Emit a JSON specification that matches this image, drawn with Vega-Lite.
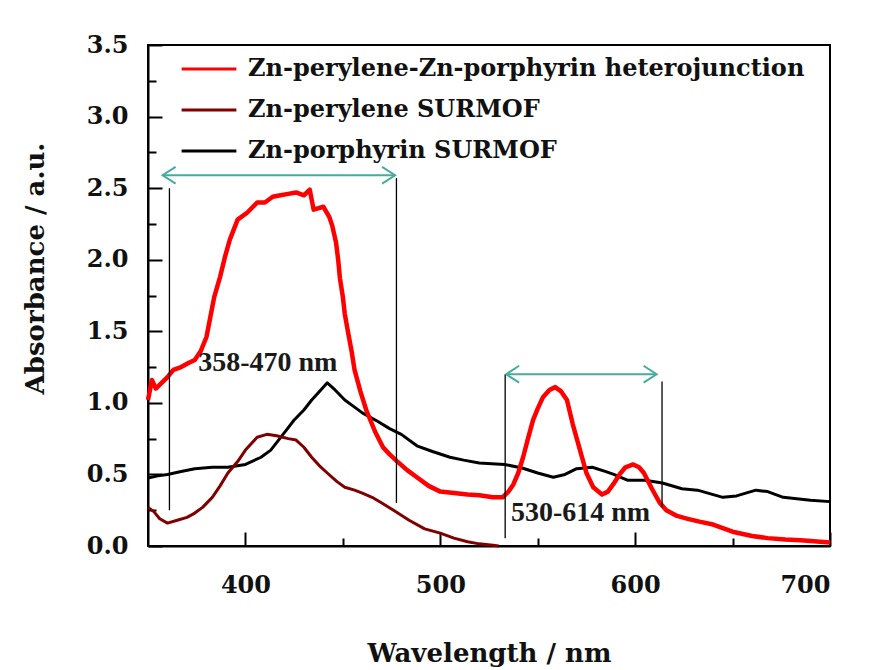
{
  "$schema": "https://vega.github.io/schema/vega-lite/v6.json",
  "width": 682,
  "height": 501,
  "autosize": {"type": "none"},
  "padding": {"left": 148, "top": 45, "right": 45, "bottom": 124},
  "background": "white",
  "config": {
    "view": {"stroke": "black", "strokeWidth": 2},
    "font": "DejaVu Serif",
    "axis": {
      "grid": false,
      "zindex": 1,
      "domainColor": "black",
      "domainWidth": 2,
      "tickColor": "black",
      "tickWidth": 2,
      "labelFont": "DejaVu Serif",
      "labelFontWeight": "bold",
      "labelFontSize": 24,
      "labelColor": "#111111",
      "titleFont": "DejaVu Serif",
      "titleFontWeight": "bold",
      "titleFontSize": 26,
      "titleColor": "#111111"
    },
    "legend": {
      "orient": "none",
      "legendX": 32,
      "legendY": -5,
      "title": null,
      "labelFont": "DejaVu Serif",
      "labelFontWeight": "bold",
      "labelFontSize": 24,
      "labelColor": "#111111",
      "labelLimit": 800,
      "symbolType": "stroke",
      "symbolSize": 3000,
      "symbolStrokeWidth": 2.8,
      "rowPadding": 0,
      "labelOffset": 10
    }
  },
  "resolve": {"axis": {"x": "independent", "y": "independent"}},
  "datasets": {
    "spectra": [
      {"series": "Zn-porphyrin SURMOF", "wl": 350, "abs": 0.475},
      {"series": "Zn-porphyrin SURMOF", "wl": 355, "abs": 0.49},
      {"series": "Zn-porphyrin SURMOF", "wl": 360, "abs": 0.5},
      {"series": "Zn-porphyrin SURMOF", "wl": 367, "abs": 0.52},
      {"series": "Zn-porphyrin SURMOF", "wl": 374, "abs": 0.54},
      {"series": "Zn-porphyrin SURMOF", "wl": 383, "abs": 0.55},
      {"series": "Zn-porphyrin SURMOF", "wl": 391, "abs": 0.55},
      {"series": "Zn-porphyrin SURMOF", "wl": 400, "abs": 0.57},
      {"series": "Zn-porphyrin SURMOF", "wl": 408, "abs": 0.62},
      {"series": "Zn-porphyrin SURMOF", "wl": 413, "abs": 0.67},
      {"series": "Zn-porphyrin SURMOF", "wl": 417, "abs": 0.74},
      {"series": "Zn-porphyrin SURMOF", "wl": 421, "abs": 0.81},
      {"series": "Zn-porphyrin SURMOF", "wl": 425, "abs": 0.88},
      {"series": "Zn-porphyrin SURMOF", "wl": 430, "abs": 0.95},
      {"series": "Zn-porphyrin SURMOF", "wl": 434, "abs": 1.02},
      {"series": "Zn-porphyrin SURMOF", "wl": 438, "abs": 1.08},
      {"series": "Zn-porphyrin SURMOF", "wl": 442, "abs": 1.14},
      {"series": "Zn-porphyrin SURMOF", "wl": 446, "abs": 1.09},
      {"series": "Zn-porphyrin SURMOF", "wl": 451, "abs": 1.02},
      {"series": "Zn-porphyrin SURMOF", "wl": 456, "abs": 0.97},
      {"series": "Zn-porphyrin SURMOF", "wl": 460, "abs": 0.93},
      {"series": "Zn-porphyrin SURMOF", "wl": 468, "abs": 0.87},
      {"series": "Zn-porphyrin SURMOF", "wl": 474, "abs": 0.82},
      {"series": "Zn-porphyrin SURMOF", "wl": 480, "abs": 0.78},
      {"series": "Zn-porphyrin SURMOF", "wl": 488, "abs": 0.7},
      {"series": "Zn-porphyrin SURMOF", "wl": 496, "abs": 0.66},
      {"series": "Zn-porphyrin SURMOF", "wl": 505, "abs": 0.62},
      {"series": "Zn-porphyrin SURMOF", "wl": 512, "abs": 0.6},
      {"series": "Zn-porphyrin SURMOF", "wl": 520, "abs": 0.58},
      {"series": "Zn-porphyrin SURMOF", "wl": 533, "abs": 0.57},
      {"series": "Zn-porphyrin SURMOF", "wl": 542, "abs": 0.545},
      {"series": "Zn-porphyrin SURMOF", "wl": 550, "abs": 0.51},
      {"series": "Zn-porphyrin SURMOF", "wl": 558, "abs": 0.48},
      {"series": "Zn-porphyrin SURMOF", "wl": 564, "abs": 0.5},
      {"series": "Zn-porphyrin SURMOF", "wl": 570, "abs": 0.54},
      {"series": "Zn-porphyrin SURMOF", "wl": 578, "abs": 0.55},
      {"series": "Zn-porphyrin SURMOF", "wl": 585, "abs": 0.52},
      {"series": "Zn-porphyrin SURMOF", "wl": 589, "abs": 0.5},
      {"series": "Zn-porphyrin SURMOF", "wl": 596, "abs": 0.46},
      {"series": "Zn-porphyrin SURMOF", "wl": 605, "abs": 0.46},
      {"series": "Zn-porphyrin SURMOF", "wl": 614, "abs": 0.44},
      {"series": "Zn-porphyrin SURMOF", "wl": 624, "abs": 0.4},
      {"series": "Zn-porphyrin SURMOF", "wl": 632, "abs": 0.39},
      {"series": "Zn-porphyrin SURMOF", "wl": 645, "abs": 0.34},
      {"series": "Zn-porphyrin SURMOF", "wl": 652, "abs": 0.35},
      {"series": "Zn-porphyrin SURMOF", "wl": 662, "abs": 0.39},
      {"series": "Zn-porphyrin SURMOF", "wl": 668, "abs": 0.38},
      {"series": "Zn-porphyrin SURMOF", "wl": 676, "abs": 0.34},
      {"series": "Zn-porphyrin SURMOF", "wl": 690, "abs": 0.32},
      {"series": "Zn-porphyrin SURMOF", "wl": 700, "abs": 0.31},

      {"series": "Zn-perylene SURMOF", "wl": 350, "abs": 0.27},
      {"series": "Zn-perylene SURMOF", "wl": 353, "abs": 0.24},
      {"series": "Zn-perylene SURMOF", "wl": 356, "abs": 0.19},
      {"series": "Zn-perylene SURMOF", "wl": 360, "abs": 0.16},
      {"series": "Zn-perylene SURMOF", "wl": 365, "abs": 0.18},
      {"series": "Zn-perylene SURMOF", "wl": 370, "abs": 0.2},
      {"series": "Zn-perylene SURMOF", "wl": 374, "abs": 0.23},
      {"series": "Zn-perylene SURMOF", "wl": 378, "abs": 0.27},
      {"series": "Zn-perylene SURMOF", "wl": 383, "abs": 0.34},
      {"series": "Zn-perylene SURMOF", "wl": 387, "abs": 0.42},
      {"series": "Zn-perylene SURMOF", "wl": 391, "abs": 0.51},
      {"series": "Zn-perylene SURMOF", "wl": 396, "abs": 0.59},
      {"series": "Zn-perylene SURMOF", "wl": 400, "abs": 0.67},
      {"series": "Zn-perylene SURMOF", "wl": 406, "abs": 0.76},
      {"series": "Zn-perylene SURMOF", "wl": 411, "abs": 0.78},
      {"series": "Zn-perylene SURMOF", "wl": 416, "abs": 0.77},
      {"series": "Zn-perylene SURMOF", "wl": 422, "abs": 0.75},
      {"series": "Zn-perylene SURMOF", "wl": 426, "abs": 0.74},
      {"series": "Zn-perylene SURMOF", "wl": 430, "abs": 0.69},
      {"series": "Zn-perylene SURMOF", "wl": 434, "abs": 0.62},
      {"series": "Zn-perylene SURMOF", "wl": 438, "abs": 0.56},
      {"series": "Zn-perylene SURMOF", "wl": 442, "abs": 0.51},
      {"series": "Zn-perylene SURMOF", "wl": 447, "abs": 0.45},
      {"series": "Zn-perylene SURMOF", "wl": 451, "abs": 0.41},
      {"series": "Zn-perylene SURMOF", "wl": 456, "abs": 0.39},
      {"series": "Zn-perylene SURMOF", "wl": 460, "abs": 0.37},
      {"series": "Zn-perylene SURMOF", "wl": 465, "abs": 0.34},
      {"series": "Zn-perylene SURMOF", "wl": 470, "abs": 0.3},
      {"series": "Zn-perylene SURMOF", "wl": 476, "abs": 0.25},
      {"series": "Zn-perylene SURMOF", "wl": 484, "abs": 0.18},
      {"series": "Zn-perylene SURMOF", "wl": 492, "abs": 0.12},
      {"series": "Zn-perylene SURMOF", "wl": 500, "abs": 0.09},
      {"series": "Zn-perylene SURMOF", "wl": 507, "abs": 0.055},
      {"series": "Zn-perylene SURMOF", "wl": 514, "abs": 0.03},
      {"series": "Zn-perylene SURMOF", "wl": 520, "abs": 0.015},
      {"series": "Zn-perylene SURMOF", "wl": 527, "abs": 0.005},
      {"series": "Zn-perylene SURMOF", "wl": 530, "abs": 0.0},

      {"series": "Zn-perylene-Zn-porphyrin heterojunction", "wl": 350, "abs": 1.02},
      {"series": "Zn-perylene-Zn-porphyrin heterojunction", "wl": 352, "abs": 1.16},
      {"series": "Zn-perylene-Zn-porphyrin heterojunction", "wl": 354, "abs": 1.1},
      {"series": "Zn-perylene-Zn-porphyrin heterojunction", "wl": 357, "abs": 1.14},
      {"series": "Zn-perylene-Zn-porphyrin heterojunction", "wl": 360, "abs": 1.18},
      {"series": "Zn-perylene-Zn-porphyrin heterojunction", "wl": 363, "abs": 1.23},
      {"series": "Zn-perylene-Zn-porphyrin heterojunction", "wl": 367, "abs": 1.25},
      {"series": "Zn-perylene-Zn-porphyrin heterojunction", "wl": 371, "abs": 1.28},
      {"series": "Zn-perylene-Zn-porphyrin heterojunction", "wl": 374, "abs": 1.3},
      {"series": "Zn-perylene-Zn-porphyrin heterojunction", "wl": 377, "abs": 1.36},
      {"series": "Zn-perylene-Zn-porphyrin heterojunction", "wl": 380, "abs": 1.46},
      {"series": "Zn-perylene-Zn-porphyrin heterojunction", "wl": 382, "abs": 1.6},
      {"series": "Zn-perylene-Zn-porphyrin heterojunction", "wl": 384, "abs": 1.74},
      {"series": "Zn-perylene-Zn-porphyrin heterojunction", "wl": 387, "abs": 1.88},
      {"series": "Zn-perylene-Zn-porphyrin heterojunction", "wl": 389.5, "abs": 2.02},
      {"series": "Zn-perylene-Zn-porphyrin heterojunction", "wl": 392, "abs": 2.14},
      {"series": "Zn-perylene-Zn-porphyrin heterojunction", "wl": 396, "abs": 2.28},
      {"series": "Zn-perylene-Zn-porphyrin heterojunction", "wl": 401, "abs": 2.33},
      {"series": "Zn-perylene-Zn-porphyrin heterojunction", "wl": 406, "abs": 2.4},
      {"series": "Zn-perylene-Zn-porphyrin heterojunction", "wl": 410, "abs": 2.4},
      {"series": "Zn-perylene-Zn-porphyrin heterojunction", "wl": 414, "abs": 2.44},
      {"series": "Zn-perylene-Zn-porphyrin heterojunction", "wl": 418, "abs": 2.45},
      {"series": "Zn-perylene-Zn-porphyrin heterojunction", "wl": 422, "abs": 2.46},
      {"series": "Zn-perylene-Zn-porphyrin heterojunction", "wl": 426, "abs": 2.47},
      {"series": "Zn-perylene-Zn-porphyrin heterojunction", "wl": 430, "abs": 2.45},
      {"series": "Zn-perylene-Zn-porphyrin heterojunction", "wl": 433, "abs": 2.49},
      {"series": "Zn-perylene-Zn-porphyrin heterojunction", "wl": 435, "abs": 2.35},
      {"series": "Zn-perylene-Zn-porphyrin heterojunction", "wl": 440, "abs": 2.37},
      {"series": "Zn-perylene-Zn-porphyrin heterojunction", "wl": 443, "abs": 2.3},
      {"series": "Zn-perylene-Zn-porphyrin heterojunction", "wl": 444.5, "abs": 2.24},
      {"series": "Zn-perylene-Zn-porphyrin heterojunction", "wl": 446.5, "abs": 2.12},
      {"series": "Zn-perylene-Zn-porphyrin heterojunction", "wl": 447.6, "abs": 2.0},
      {"series": "Zn-perylene-Zn-porphyrin heterojunction", "wl": 448.5, "abs": 1.87},
      {"series": "Zn-perylene-Zn-porphyrin heterojunction", "wl": 450, "abs": 1.74},
      {"series": "Zn-perylene-Zn-porphyrin heterojunction", "wl": 451, "abs": 1.62},
      {"series": "Zn-perylene-Zn-porphyrin heterojunction", "wl": 452.7, "abs": 1.49},
      {"series": "Zn-perylene-Zn-porphyrin heterojunction", "wl": 454.5, "abs": 1.36},
      {"series": "Zn-perylene-Zn-porphyrin heterojunction", "wl": 456, "abs": 1.23},
      {"series": "Zn-perylene-Zn-porphyrin heterojunction", "wl": 459, "abs": 1.08},
      {"series": "Zn-perylene-Zn-porphyrin heterojunction", "wl": 462, "abs": 0.95},
      {"series": "Zn-perylene-Zn-porphyrin heterojunction", "wl": 466.5, "abs": 0.8},
      {"series": "Zn-perylene-Zn-porphyrin heterojunction", "wl": 470.6, "abs": 0.69},
      {"series": "Zn-perylene-Zn-porphyrin heterojunction", "wl": 474, "abs": 0.64},
      {"series": "Zn-perylene-Zn-porphyrin heterojunction", "wl": 478, "abs": 0.59},
      {"series": "Zn-perylene-Zn-porphyrin heterojunction", "wl": 483, "abs": 0.53},
      {"series": "Zn-perylene-Zn-porphyrin heterojunction", "wl": 488, "abs": 0.48},
      {"series": "Zn-perylene-Zn-porphyrin heterojunction", "wl": 494, "abs": 0.42},
      {"series": "Zn-perylene-Zn-porphyrin heterojunction", "wl": 500, "abs": 0.38},
      {"series": "Zn-perylene-Zn-porphyrin heterojunction", "wl": 507, "abs": 0.37},
      {"series": "Zn-perylene-Zn-porphyrin heterojunction", "wl": 514, "abs": 0.36},
      {"series": "Zn-perylene-Zn-porphyrin heterojunction", "wl": 520, "abs": 0.355},
      {"series": "Zn-perylene-Zn-porphyrin heterojunction", "wl": 527, "abs": 0.34},
      {"series": "Zn-perylene-Zn-porphyrin heterojunction", "wl": 532, "abs": 0.34},
      {"series": "Zn-perylene-Zn-porphyrin heterojunction", "wl": 535, "abs": 0.38},
      {"series": "Zn-perylene-Zn-porphyrin heterojunction", "wl": 537.5, "abs": 0.43},
      {"series": "Zn-perylene-Zn-porphyrin heterojunction", "wl": 540, "abs": 0.51},
      {"series": "Zn-perylene-Zn-porphyrin heterojunction", "wl": 542.5, "abs": 0.62},
      {"series": "Zn-perylene-Zn-porphyrin heterojunction", "wl": 545, "abs": 0.75},
      {"series": "Zn-perylene-Zn-porphyrin heterojunction", "wl": 547.6, "abs": 0.88},
      {"series": "Zn-perylene-Zn-porphyrin heterojunction", "wl": 550, "abs": 0.96},
      {"series": "Zn-perylene-Zn-porphyrin heterojunction", "wl": 552.7, "abs": 1.04},
      {"series": "Zn-perylene-Zn-porphyrin heterojunction", "wl": 556, "abs": 1.09},
      {"series": "Zn-perylene-Zn-porphyrin heterojunction", "wl": 559, "abs": 1.11},
      {"series": "Zn-perylene-Zn-porphyrin heterojunction", "wl": 562, "abs": 1.08},
      {"series": "Zn-perylene-Zn-porphyrin heterojunction", "wl": 565, "abs": 1.02},
      {"series": "Zn-perylene-Zn-porphyrin heterojunction", "wl": 568, "abs": 0.85},
      {"series": "Zn-perylene-Zn-porphyrin heterojunction", "wl": 571.7, "abs": 0.67},
      {"series": "Zn-perylene-Zn-porphyrin heterojunction", "wl": 575, "abs": 0.51},
      {"series": "Zn-perylene-Zn-porphyrin heterojunction", "wl": 578.5, "abs": 0.41},
      {"series": "Zn-perylene-Zn-porphyrin heterojunction", "wl": 583, "abs": 0.36},
      {"series": "Zn-perylene-Zn-porphyrin heterojunction", "wl": 586, "abs": 0.38},
      {"series": "Zn-perylene-Zn-porphyrin heterojunction", "wl": 588.7, "abs": 0.43},
      {"series": "Zn-perylene-Zn-porphyrin heterojunction", "wl": 592, "abs": 0.5},
      {"series": "Zn-perylene-Zn-porphyrin heterojunction", "wl": 595, "abs": 0.55},
      {"series": "Zn-perylene-Zn-porphyrin heterojunction", "wl": 599, "abs": 0.57},
      {"series": "Zn-perylene-Zn-porphyrin heterojunction", "wl": 602, "abs": 0.55},
      {"series": "Zn-perylene-Zn-porphyrin heterojunction", "wl": 604.5, "abs": 0.51},
      {"series": "Zn-perylene-Zn-porphyrin heterojunction", "wl": 608.6, "abs": 0.4},
      {"series": "Zn-perylene-Zn-porphyrin heterojunction", "wl": 612.7, "abs": 0.3},
      {"series": "Zn-perylene-Zn-porphyrin heterojunction", "wl": 616, "abs": 0.25},
      {"series": "Zn-perylene-Zn-porphyrin heterojunction", "wl": 621.5, "abs": 0.21},
      {"series": "Zn-perylene-Zn-porphyrin heterojunction", "wl": 627, "abs": 0.19},
      {"series": "Zn-perylene-Zn-porphyrin heterojunction", "wl": 633, "abs": 0.17},
      {"series": "Zn-perylene-Zn-porphyrin heterojunction", "wl": 640, "abs": 0.15},
      {"series": "Zn-perylene-Zn-porphyrin heterojunction", "wl": 650, "abs": 0.1},
      {"series": "Zn-perylene-Zn-porphyrin heterojunction", "wl": 660, "abs": 0.07},
      {"series": "Zn-perylene-Zn-porphyrin heterojunction", "wl": 668, "abs": 0.055},
      {"series": "Zn-perylene-Zn-porphyrin heterojunction", "wl": 677, "abs": 0.045},
      {"series": "Zn-perylene-Zn-porphyrin heterojunction", "wl": 685, "abs": 0.04},
      {"series": "Zn-perylene-Zn-porphyrin heterojunction", "wl": 700, "abs": 0.025}
    ],
    "vlines": [
      {"wl": 361, "lo": 0.25, "hi": 2.5},
      {"wl": 477.5, "lo": 0.3, "hi": 2.57},
      {"wl": 533.3, "lo": 0.055, "hi": 1.2},
      {"wl": 613.8, "lo": 0.27, "hi": 1.15}
    ],
    "arrows": [
      {"from": 357.5, "to": 476.8, "abs": 2.59},
      {"from": 533.8, "to": 611, "abs": 1.2}
    ],
    "heads": [
      {"wl": 357.5, "abs": 2.59, "dir": "left"},
      {"wl": 476.8, "abs": 2.59, "dir": "right"},
      {"wl": 533.8, "abs": 1.2, "dir": "left"},
      {"wl": 611, "abs": 1.2, "dir": "right"}
    ],
    "notes": [
      {"wl": 411.5, "abs": 1.28, "text": "358-470 nm"},
      {"wl": 572, "abs": 0.23, "text": "530-614 nm"}
    ]
  },
  "layer": [
    {
      "data": {"name": "spectra"},
      "mark": {"type": "line", "strokeJoin": "round"},
      "encoding": {
        "x": {
          "field": "wl", "type": "quantitative",
          "scale": {"domain": [350, 700], "nice": false, "zero": false},
          "axis": {
            "orient": "bottom",
            "title": "Wavelength / nm",
            "values": [400, 500, 600, 700],
            "format": "d",
            "tickSize": -14,
            "labelPadding": 41,
            "titlePadding": 43
          }
        },
        "y": {
          "field": "abs", "type": "quantitative",
          "scale": {"domain": [0, 3.5], "nice": false},
          "axis": {
            "orient": "left",
            "title": "Absorbance / a.u.",
            "values": [0, 0.5, 1, 1.5, 2, 2.5, 3, 3.5],
            "format": ".1f",
            "tickSize": -14,
            "labelPadding": 34,
            "titlePadding": 38,
            "titleY": 223
          }
        },
        "color": {
          "field": "series", "type": "nominal",
          "scale": {
            "domain": ["Zn-perylene-Zn-porphyrin heterojunction", "Zn-perylene SURMOF", "Zn-porphyrin SURMOF"],
            "range": ["#ff0000", "#800000", "#000000"]
          }
        },
        "strokeWidth": {
          "condition": {"test": "datum.series === 'Zn-perylene-Zn-porphyrin heterojunction'", "value": 4.5},
          "value": 3
        }
      }
    },
    {
      "data": {"name": "vlines"},
      "mark": {"type": "rule", "color": "black", "strokeWidth": 1.3},
      "encoding": {
        "x": {
          "field": "wl", "type": "quantitative",
          "axis": {"orient": "bottom", "values": [450, 550, 650], "tickSize": -8, "labels": false, "domain": false, "title": null}
        },
        "y": {
          "field": "lo", "type": "quantitative",
          "axis": {"orient": "left", "values": [0.25, 0.75, 1.25, 1.75, 2.25, 2.75, 3.25], "tickSize": -8, "labels": false, "domain": false, "title": null}
        },
        "y2": {"field": "hi"}
      }
    },
    {
      "data": {"name": "arrows"},
      "mark": {"type": "rule", "color": "#45ad9d", "strokeWidth": 2},
      "encoding": {
        "x": {"field": "from", "type": "quantitative", "axis": null},
        "x2": {"field": "to"},
        "y": {"field": "abs", "type": "quantitative", "axis": null}
      }
    },
    {
      "data": {"name": "heads"},
      "mark": {"type": "point", "filled": false, "stroke": "#45ad9d", "strokeWidth": 2, "size": 169, "opacity": 1},
      "encoding": {
        "x": {"field": "wl", "type": "quantitative", "axis": null},
        "y": {"field": "abs", "type": "quantitative", "axis": null},
        "shape": {
          "field": "dir", "type": "nominal",
          "scale": {"domain": ["left", "right"], "range": ["M2,-1.3L0,0L2,1.3", "M-2,-1.3L0,0L-2,1.3"]},
          "legend": null
        }
      }
    },
    {
      "data": {"name": "notes"},
      "mark": {"type": "text", "font": "Liberation Serif", "fontWeight": "bold", "fontSize": 28, "color": "#1a1a1a", "align": "center", "baseline": "middle"},
      "encoding": {
        "x": {"field": "wl", "type": "quantitative", "axis": null},
        "y": {"field": "abs", "type": "quantitative", "axis": null},
        "text": {"field": "text"}
      }
    }
  ]
}
